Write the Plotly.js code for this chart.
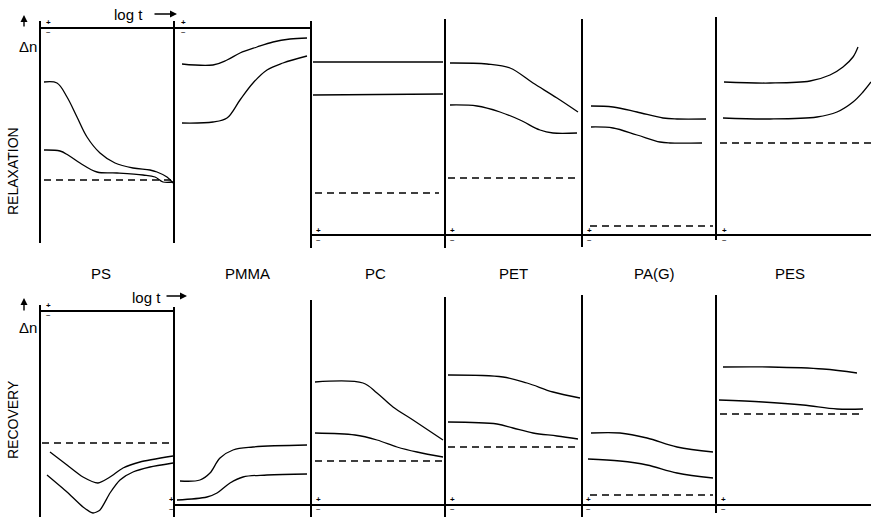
<!DOCTYPE html>
<html>
<head>
<meta charset="utf-8">
<script src="https://cdn.plot.ly/plotly-3.0.1.min.js"></script>
<style>html,body{margin:0;padding:0;background:#fff;}#chart{width:871px;height:523px;}</style>
</head>
<body>
<div id="chart"></div>
<script>
// ---------- categories ----------
const polymers = ["PS", "PMMA", "PC", "PET", "PA(G)", "PES"];
const rowTitles = ["RELAXATION", "RECOVERY"];

// ---------- RELAXATION (top row): log t (arb.), Δn (arb., 0 = zero line) ----------
const relPS_hi_t  = [3, 16, 26, 36, 46, 59, 74, 92, 109, 116, 126, 132];
const relPS_hi_dn = [-54, -55, -69, -89, -109, -125, -135, -140, -142, -144, -149, -155];
const relPS_lo_t  = [3, 19, 27, 39, 56, 76, 102, 114, 122, 132];
const relPS_lo_dn = [-122, -123, -127, -135, -144, -145, -147, -149, -154, -154];

const relPMMA_hi_t  = [7, 38, 52, 65, 82, 98, 115, 132];
const relPMMA_hi_dn = [-36, -37, -32, -25, -19, -14, -11, -10];
const relPMMA_lo_t  = [7, 38, 52, 65, 78, 92, 108, 132];
const relPMMA_lo_dn = [-95, -94, -90, -72, -55, -42, -35, -28];

const relPC_hi_t  = [1, 131];
const relPC_hi_dn = [173, 173];
const relPC_lo_t  = [1, 131];
const relPC_lo_dn = [140, 141];

const relPET_hi_t  = [4, 41, 64, 87, 111, 132];
const relPET_hi_dn = [172, 171, 167, 152, 137, 123];
const relPET_lo_t  = [4, 31, 54, 74, 94, 107, 131];
const relPET_lo_dn = [130, 129, 123, 115, 105, 102, 102];

const relPA_hi_t  = [8, 30, 54, 80, 94, 123];
const relPA_hi_dn = [129, 128, 123, 117, 116, 116];
const relPA_lo_t  = [8, 30, 54, 77, 87, 119];
const relPA_lo_dn = [108, 107, 100, 93, 92, 92];

const relPES_hi_t  = [7, 53, 93, 113, 126, 136, 141];
const relPES_hi_dn = [153, 152, 154, 160, 168, 178, 188];
const relPES_lo_t  = [6, 53, 100, 120, 136, 146, 154];
const relPES_lo_dn = [117, 116, 118, 123, 133, 143, 153];

// dashed reference levels (null = none)
const relRefLevel = [-152, null, 42, 57, 9, 92];
const relRefStart = [3, null, 3, 2, 7, 3];
const relRefEnd   = [131, null, 127, 131, 130, 154];

// ---------- RECOVERY (bottom row) ----------
const recPS_hi_t  = [9, 26, 42, 57, 69, 82, 99, 132];
const recPS_hi_dn = [-141, -154, -166, -172, -166, -157, -151, -145];
const recPS_lo_t  = [6, 26, 42, 52, 59, 69, 79, 92, 109, 132];
const recPS_lo_dn = [-164, -181, -196, -202, -199, -182, -169, -161, -156, -152];

const recPMMA_hi_t  = [5, 25, 35, 45, 58, 78, 132];
const recPMMA_hi_dn = [24, 25, 32, 47, 55, 58, 60];
const recPMMA_lo_t  = [2, 32, 42, 55, 68, 92, 132];
const recPMMA_lo_dn = [5, 8, 12, 22, 28, 30, 31];

const recPC_hi_t  = [3, 51, 65, 81, 101, 131];
const recPC_hi_dn = [123, 122, 112, 98, 85, 65];
const recPC_lo_t  = [3, 43, 65, 85, 105, 131];
const recPC_lo_dn = [72, 70, 65, 58, 53, 48];

const recPET_hi_t  = [2, 57, 81, 107, 134];
const recPET_hi_dn = [130, 128, 122, 113, 107];
const recPET_lo_t  = [2, 51, 67, 87, 111, 132];
const recPET_lo_dn = [83, 81, 77, 72, 69, 66];

const recPA_hi_t  = [8, 37, 64, 94, 130];
const recPA_hi_dn = [72, 72, 67, 58, 53];
const recPA_lo_t  = [5, 37, 64, 94, 130];
const recPA_lo_dn = [46, 44, 40, 32, 27];

const recPES_hi_t  = [6, 53, 106, 140];
const recPES_hi_dn = [138, 138, 136, 132];
const recPES_lo_t  = [2, 46, 86, 120, 146];
const recPES_lo_dn = [105, 103, 100, 96, 96];

const recRefLevel = [-132, null, 44, 58, 10, 91];
const recRefStart = [1, null, 3, 2, 7, 3];
const recRefEnd   = [132, null, 131, 134, 130, 146];

// ---------- layout geometry (pixels) ----------
const W = 871, H = 523;
const panelLeft  = [41, 175, 312, 446, 583, 717];
const panelRight = [175, 312, 446, 583, 717, 871];
const topRowTop    = [21, 21, 21, 19, 19, 17];
const topRowBottom = [243, 243, 248, 248, 247, 240];
const topRowZero   = [28, 28, 235, 235, 235, 235];
const botRowTop    = [305, 307, 300, 297, 295, 295];
const botRowBottom = [517, 517, 517, 517, 517, 513];
const botRowZero   = [311, 505, 505, 505, 505, 505];

const relCurves = [
  [[relPS_hi_t, relPS_hi_dn], [relPS_lo_t, relPS_lo_dn]],
  [[relPMMA_hi_t, relPMMA_hi_dn], [relPMMA_lo_t, relPMMA_lo_dn]],
  [[relPC_hi_t, relPC_hi_dn], [relPC_lo_t, relPC_lo_dn]],
  [[relPET_hi_t, relPET_hi_dn], [relPET_lo_t, relPET_lo_dn]],
  [[relPA_hi_t, relPA_hi_dn], [relPA_lo_t, relPA_lo_dn]],
  [[relPES_hi_t, relPES_hi_dn], [relPES_lo_t, relPES_lo_dn]]
];
const recCurves = [
  [[recPS_hi_t, recPS_hi_dn], [recPS_lo_t, recPS_lo_dn]],
  [[recPMMA_hi_t, recPMMA_hi_dn], [recPMMA_lo_t, recPMMA_lo_dn]],
  [[recPC_hi_t, recPC_hi_dn], [recPC_lo_t, recPC_lo_dn]],
  [[recPET_hi_t, recPET_hi_dn], [recPET_lo_t, recPET_lo_dn]],
  [[recPA_hi_t, recPA_hi_dn], [recPA_lo_t, recPA_lo_dn]],
  [[recPES_hi_t, recPES_hi_dn], [recPES_lo_t, recPES_lo_dn]]
];

const INK = '#000000';
const FONT = 'Liberation Sans, Arial, sans-serif';
const traces = [];
const layout = {
  width: W, height: H,
  margin: {l: 0, r: 0, t: 0, b: 0, pad: 0},
  paper_bgcolor: '#fff', plot_bgcolor: 'rgba(0,0,0,0)',
  showlegend: false,
  font: {family: FONT, color: INK},
  annotations: []
};

function px(x) { return x / W; }
function py(y) { return 1 - y / H; }

function addPanel(k, i, top, bottom, zero, curves, refLevel, refStart, refEnd) {
  const xn = k === 1 ? 'x' : 'x' + k;
  const yn = k === 1 ? 'y' : 'y' + k;
  const xk = k === 1 ? 'xaxis' : 'xaxis' + k;
  const yk = k === 1 ? 'yaxis' : 'yaxis' + k;
  layout[xk] = {
    domain: [px(panelLeft[i]), px(panelRight[i])],
    range: [0, panelRight[i] - panelLeft[i]],
    anchor: yn, showline: false, showgrid: false, zeroline: false,
    showticklabels: false, ticks: '', fixedrange: true
  };
  layout[yk] = {
    domain: [py(bottom), py(top)],
    range: [zero - bottom, zero - top],
    anchor: xn, showline: true, linecolor: INK, linewidth: 1.6,
    showgrid: false, zeroline: true, zerolinecolor: INK, zerolinewidth: 1.5,
    showticklabels: false, ticks: '', fixedrange: true
  };
  const sharp = (k === 7);
  curves.forEach(c => {
    traces.push({
      type: 'scatter', mode: 'lines', x: c[0], y: c[1], xaxis: xn, yaxis: yn,
      line: {color: INK, width: 1.3, shape: 'spline', smoothing: sharp ? 0.6 : 1},
      hoverinfo: 'skip'
    });
  });
  if (refLevel[i] !== null) {
    traces.push({
      type: 'scatter', mode: 'lines',
      x: [refStart[i], refEnd[i]], y: [refLevel[i], refLevel[i]],
      xaxis: xn, yaxis: yn,
      line: {color: INK, width: 1.4, dash: '7px,5px'},
      hoverinfo: 'skip'
    });
  }
}

for (let i = 0; i < 6; i++) {
  addPanel(i + 1, i, topRowTop[i], topRowBottom[i], topRowZero[i], relCurves[i], relRefLevel, relRefStart, relRefEnd);
  addPanel(i + 7, i, botRowTop[i], botRowBottom[i], botRowZero[i], recCurves[i], recRefLevel, recRefStart, recRefEnd);
}

function text(t, x, y, size, extra) {
  layout.annotations.push(Object.assign({
    text: t, xref: 'paper', yref: 'paper', x: px(x), y: py(y),
    xanchor: 'center', yanchor: 'middle', showarrow: false,
    font: {family: FONT, size: size, color: INK}
  }, extra || {}));
}
function arrow(x, y, ax, ay) {
  layout.annotations.push({
    text: '', xref: 'paper', yref: 'paper', x: px(x), y: py(y),
    ax: ax, ay: ay, showarrow: true, arrowhead: 2, arrowsize: 1, arrowwidth: 1.4,
    arrowcolor: INK, standoff: 0, startstandoff: 0
  });
}

// polymer labels between rows
const labelX = [101, 247, 375, 513, 654, 790];
polymers.forEach((p, i) => text(p, labelX[i], 273, 15));

// row titles
text(rowTitles[0], 13, 171, 14, {textangle: -90});
text(rowTitles[1], 13, 420, 14, {textangle: -90});

// Δn axis labels and log t labels
text('Δn', 28, 46, 15);
arrow(24, 15, 0, 13);
text('log t', 128, 15, 15);
arrow(177, 14, -24, 0);

text('Δn', 28, 327, 15);
arrow(24, 298, 0, 14);
text('log t', 146, 297, 15);
arrow(187, 296, -22, 0);

// sign markers at the zero lines (+ above, − below)
const signX = [48, 183, 318, 452, 589, 724, 48, 171, 318, 452, 588, 723];
const signY = [28, 28, 235, 235, 235, 235, 310, 504, 504, 504, 504, 504];
signX.forEach((x, j) => {
  text('<b>+</b><br>−', x, signY[j], 8, {font: {family: FONT, size: 8, color: INK}});
});

Plotly.newPlot('chart', traces, layout, {staticPlot: true, displayModeBar: false});
</script>
</body>
</html>
